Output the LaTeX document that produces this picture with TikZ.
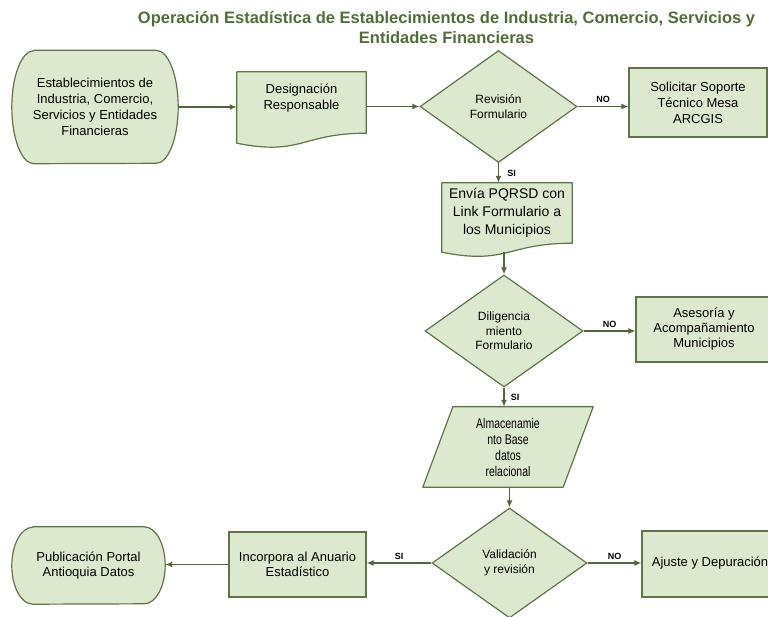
\documentclass[tikz,border=0pt]{standalone}
\usepackage{fontspec}
\setmainfont{Liberation Sans}
\newfontfamily\condfont[FakeStretch=0.75]{Liberation Sans}
\usetikzlibrary{shapes.geometric,arrows.meta,backgrounds}
\definecolor{fillg}{RGB}{221,233,206}
\definecolor{lineg}{RGB}{92,118,72}
\definecolor{arrg}{RGB}{78,104,58}
\definecolor{titleg}{RGB}{80,110,55}
\begin{document}
\begin{tikzpicture}[x=1pt,y=-1pt,
  boxnode/.style={draw=lineg, fill=fillg, line width=1.2pt, align=center, inner sep=0pt, font=\fontsize{13}{16}\selectfont},
  txtnode/.style={align=center, inner sep=0pt, font=\fontsize{13}{16}\selectfont},
  dianode/.style={diamond, draw=lineg, fill=fillg, line width=1.2pt, align=center, inner sep=0pt, font=\fontsize{12}{14.5}\selectfont},
  shp/.style={draw=lineg, fill=fillg, line width=1.2pt, line join=round},
  flow/.style={draw=arrg, line width=1.5pt, -{Latex[length=7pt,width=6pt]}},
  lab/.style={font=\bfseries\fontsize{9}{10}\selectfont, inner sep=0pt, text=black}
]
\useasboundingbox (0,0) rectangle (768,616);

% title
\node[font=\bfseries\fontsize{16.5}{20}\selectfont, text=titleg, align=center, inner sep=0pt] (title) at (446.5,28)
  {Operación Estadística de Establecimientos de Industria, Comercio, Servicios y\\Entidades Financieras};

% nodes
\node[txtnode, minimum width=166pt, minimum height=113pt] (start) at (95,107)
  {Establecimientos de\\Industria, Comercio,\\Servicios y Entidades\\Financieras};
\node[txtnode, minimum width=129pt, minimum height=52pt] (desig) at (301.5,98)
  {Designación\\Responsable};
\node[dianode, minimum width=157pt, minimum height=112pt] (rev) at (498.5,106.5)
  {Revisión\\Formulario};
\node[boxnode, minimum width=138pt, minimum height=69pt] (sol) at (698,102.5)
  {Solicitar Soporte\\Técnico Mesa\\ARCGIS};
\node[txtnode, minimum width=130pt, minimum height=60pt, font=\fontsize{14}{18}\selectfont] (env) at (507,213)
  {Envía PQRSD con\\Link Formulario a\\los Municipios};
\coordinate (envb) at ([yshift=-9pt]env.south);
\node[dianode, minimum width=158pt, minimum height=112pt] (dil) at (504,331)
  {Diligencia\\miento\\Formulario};
\node[boxnode, minimum width=136pt, minimum height=65pt, font=\fontsize{13}{15}\selectfont] (ase) at (704,329.5)
  {Asesoría y\\Acompañamiento\\Municipios};
\node[txtnode, minimum width=140pt, minimum height=80pt, font=\condfont\fontsize{14}{16}\selectfont] (para) at (508,447)
  {Almacenamie\\nto Base\\datos\\relacional};
\node[dianode, minimum width=155pt, minimum height=110pt] (val) at (509.5,563)
  {Validación\\y revisión};
\node[boxnode, minimum width=136pt, minimum height=66pt] (aju) at (710,564)
  {\raisebox{4pt}{Ajuste y Depuración}};
\node[boxnode, minimum width=137pt, minimum height=65pt, font=\fontsize{13}{15}\selectfont] (inc) at (297.5,564.5)
  {Incorpora al Anuario\\Estadístico};
\node[txtnode, minimum width=153pt, minimum height=77pt, font=\fontsize{13}{15}\selectfont] (pub) at (88.5,565.5)
  {Publicación Portal\\Antioquia Datos};

% special shapes behind the texts
\begin{scope}[on background layer]
  \draw[shp] ([xshift=22pt]start.north west) -- ([xshift=-22pt]start.north east)
    arc[start angle=90,end angle=-90,x radius=22pt,y radius=56.5pt]
    -- ([xshift=22pt]start.south west)
    arc[start angle=270,end angle=90,x radius=22pt,y radius=56.5pt] -- cycle;
  \draw[shp] ([xshift=21pt]pub.north west) -- ([xshift=-21pt]pub.north east)
    arc[start angle=90,end angle=-90,x radius=21pt,y radius=38.5pt]
    -- ([xshift=21pt]pub.south west)
    arc[start angle=270,end angle=90,x radius=21pt,y radius=38.5pt] -- cycle;
  \draw[shp] (desig.north west) -- (desig.north east) -- ([yshift=-9pt]desig.south east)
    .. controls ([yshift=-9pt]desig.south) and ([yshift=-32pt]desig.south) .. ([yshift=-19pt]desig.south west) -- cycle;
  \draw[shp] (env.north west) -- (env.north east) -- (env.south east)
    .. controls (env.south) and ([yshift=-22pt]env.south) .. ([yshift=-9pt]env.south west) -- cycle;
  \draw[shp] ([xshift=-15pt]para.south west) -- ([xshift=-15pt]para.south east)
    -- ([xshift=15pt]para.north east) -- ([xshift=15pt]para.north west) -- cycle;
\end{scope}

% connectors
\draw[flow] (start.east) -- (start.east -| desig.west);
\draw[flow] (rev.west -| desig.east) -- (rev.west);
\draw[flow] (rev.east) -- (rev.east -| sol.west) node[lab, midway, above=3pt] {NO};
\draw[flow] (rev.south) -- (rev.south |- env.north) node[lab, midway, right=8pt] {SI};
\draw[flow] (envb -| dil.north) -- (dil.north);
\draw[flow] (dil.east) -- (dil.east -| ase.west) node[lab, midway, above=3pt] {NO};
\draw[flow] (dil.south) -- (dil.south |- para.north) node[lab, midway, right=6pt] {SI};
\draw[flow] (para.south -| val.north) -- (val.north);
\draw[flow] (val.west) -- (val.west -| inc.east) node[lab, midway, above=3pt] {SI};
\draw[flow] (val.east) -- (val.east -| aju.west) node[lab, midway, above=3pt] {NO};
\draw[flow] (inc.west) -- (inc.west -| pub.east);
\end{tikzpicture}
\end{document}
